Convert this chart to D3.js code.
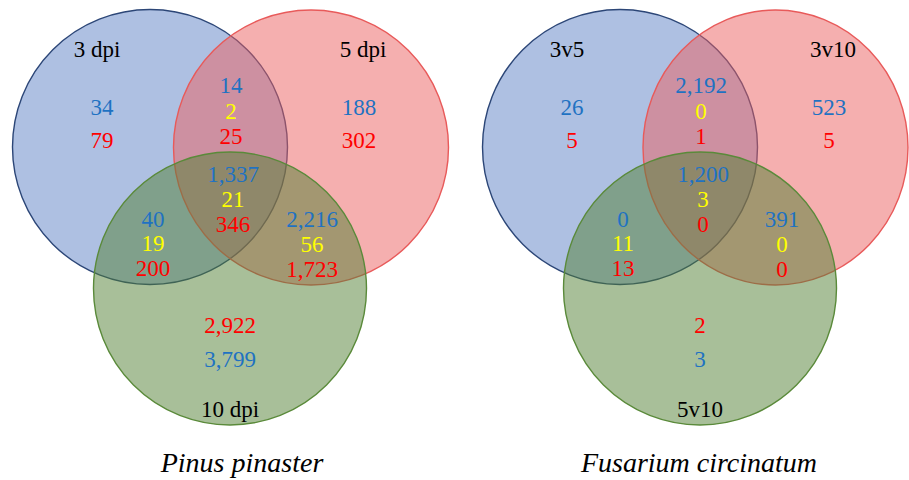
<!DOCTYPE html>
<html>
<head>
<meta charset="utf-8">
<script src="https://cdn.jsdelivr.net/npm/d3@7"></script>
<style>
  html, body { margin: 0; padding: 0; background: #fff; }
  svg { display: block; }
  text { font-family: "Liberation Serif", "Times New Roman", Times, "Tinos", "DejaVu Serif", serif; }
</style>
</head>
<body>
<svg id="chart" width="909" height="480"></svg>
<script>
// ---------------- DATA ----------------
const panels = ["Pinus pinaster", "Fusarium circinatum"];
const setLabels = [
  ["3 dpi", "5 dpi", "10 dpi"],
  ["3v5", "3v10", "5v10"]
];
// regions: A only, B only, A∩B, A∩B∩C, A∩C, B∩C, C only
const regions = ["A", "B", "AB", "ABC", "AC", "BC", "C"];
const blueValues = [
  [34, 188, 14, 1337, 40, 2216, 3799],
  [26, 523, 2192, 1200, 0, 391, 3]
];
const yellowValues = [
  [null, null, 2, 21, 19, 56, null],
  [null, null, 0, 3, 11, 0, null]
];
const redValues = [
  [79, 302, 25, 346, 200, 1723, 2922],
  [5, 5, 1, 0, 13, 0, 2]
];

// ---------------- LAYOUT ----------------
const svg = d3.select("#chart");
const fmt = d3.format(",");
const panelX = d3.scaleBand().domain(panels).range([0, 940]);
const yPos = d3.scaleLinear().domain([0, 480]).range([0, 480]);

const circles = [
  { cx: 150, cy: 147, rx: 137.5, ry: 137.5, fill: "rgb(93,129,197)", stroke: "#2c4677" },
  { cx: 311, cy: 147.5, rx: 137.5, ry: 137.5, fill: "rgb(235,95,95)", stroke: "#e85a5a" },
  { cx: 230, cy: 288.5, rx: 136.5, ry: 136.5, fill: "rgb(81,127,51)", stroke: "#5a8a3a" }
];
const circleAdjust = [ {}, { 1: { cx: 775.5 - 470, rx: 132.5 } } ];

const labelPos = [
  { x: 97, y: 57 }, { x: 363, y: 57 }, { x: 230, y: 417 }
];
const regionPos = {
  A: { x: 102, ys: [115, null, 148] },
  B: { x: 359, ys: [115, null, 148] },
  AB: { x: 231, ys: [93, 119, 144] },
  ABC: { x: 233, ys: [182, 207, 232] },
  AC: { x: 153, ys: [227, 251, 276] },
  BC: { x: 312, ys: [227, 252, 277] },
  C: { x: 230, ys: [367, null, 333] }
};
const titleX = [242, 229];
const titleY = 472;
const textColors = ["#1f72c2", "#ffff00", "#ff0000"];

panels.forEach((p, pi) => {
  const g = svg.append("g").attr("transform", `translate(${panelX(p)},0)`);
  const cs = circles.map((c, i) => Object.assign({}, c, circleAdjust[pi][i] || {}));
  g.selectAll("ellipse").data(cs).join("ellipse")
    .attr("cx", d => d.cx).attr("cy", d => yPos(d.cy))
    .attr("rx", d => d.rx).attr("ry", d => d.ry)
    .attr("fill", d => d.fill).attr("fill-opacity", 0.5)
    .attr("stroke", d => d.stroke).attr("stroke-width", 1.4);

  // set labels
  g.selectAll("text.lab").data(setLabels[pi]).join("text")
    .attr("class", "lab")
    .attr("x", (d, i) => labelPos[i].x)
    .attr("y", (d, i) => yPos(labelPos[i].y))
    .attr("text-anchor", "middle")
    .attr("font-size", 23)
    .attr("fill", "#000")
    .text(d => d);

  // region numbers
  const series = [blueValues[pi], yellowValues[pi], redValues[pi]];
  const items = [];
  regions.forEach((r, ri) => {
    series.forEach((s, si) => {
      if (s[ri] !== null && regionPos[r].ys[si] !== null) {
        items.push({ x: regionPos[r].x, y: regionPos[r].ys[si], v: s[ri], c: textColors[si] });
      }
    });
  });
  g.selectAll("text.num").data(items).join("text")
    .attr("class", "num")
    .attr("x", d => d.x)
    .attr("y", d => yPos(d.y))
    .attr("text-anchor", "middle")
    .attr("font-size", 23)
    .attr("fill", d => d.c)
    .text(d => fmt(d.v));

  g.append("text")
    .attr("x", titleX[pi]).attr("y", yPos(titleY))
    .attr("text-anchor", "middle")
    .attr("font-style", "italic")
    .attr("font-size", 28)
    .attr("fill", "#000")
    .text(p);
});
</script>
</body>
</html>
